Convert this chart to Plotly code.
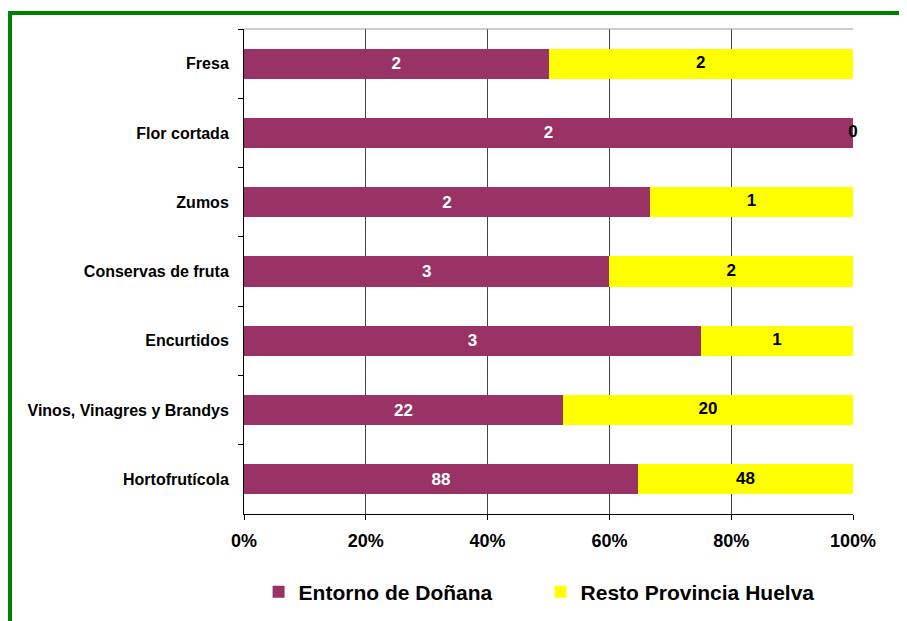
import plotly.graph_objects as go

categories = ["Fresa", "Flor cortada", "Zumos", "Conservas de fruta", "Encurtidos",
              "Vinos, Vinagres y Brandys", "Hortofrutícola"]
entorno = [2, 2, 2, 3, 3, 22, 88]
resto = [2, 0, 1, 2, 1, 20, 48]
tick_vals = [0, 20, 40, 60, 80, 100]
tick_text = ["0%", "20%", "40%", "60%", "80%", "100%"]

FONT = "Liberation Sans, Arial, sans-serif"
MAGENTA = "#993366"
YELLOW = "#FFFF00"

totals = [a + b for a, b in zip(entorno, resto)]
resto_mid = [(a + b / 2) / t * 100 for a, b, t in zip(entorno, resto, totals)]

fig = go.Figure()
fig.add_trace(go.Bar(
    y=categories, x=entorno, orientation="h", name="Entorno de Doñana",
    marker=dict(color=MAGENTA, line=dict(width=0)),
    text=[str(v) for v in entorno], textposition="inside", insidetextanchor="middle",
    textfont=dict(family=FONT, size=17, color="white", weight="bold"),
    textangle=0,
))
fig.add_trace(go.Bar(
    y=categories, x=resto, orientation="h", name="Resto Provincia Huelva",
    marker=dict(color=YELLOW, line=dict(width=0)),
    textposition="none",
))
fig.add_trace(go.Scatter(
    y=categories, x=resto_mid, mode="text", text=[str(v) for v in resto],
    textposition="middle center",
    textfont=dict(family=FONT, size=17, color="black", weight="bold"),
    showlegend=False, cliponaxis=False, hoverinfo="skip",
))

fig.update_layout(
    width=900, height=614,
    barmode="stack", barnorm="percent", bargap=0.565,
    paper_bgcolor="white", plot_bgcolor="white",
    margin=dict(l=236, r=55, t=21, b=108, autoexpand=False),
    font=dict(family=FONT, color="black"),
    showlegend=True,
    legend=dict(orientation="h", x=0.487, xanchor="center", y=-0.161, yanchor="middle",
                traceorder="normal",
                font=dict(family=FONT, size=21, color="black", weight="bold"),
                itemwidth=30, entrywidth=237),
    shapes=[dict(type="rect", xref="paper", yref="paper",
                 x0=-0.3842, x1=1.2, y0=-0.35, y1=1.033,
                 line=dict(color="#008000", width=4), fillcolor="rgba(0,0,0,0)", layer="below"),
            dict(type="line", xref="paper", yref="paper", x0=0, x1=1, y0=1, y1=1,
                 line=dict(color="#999999", width=1))],
)
fig.update_xaxes(
    range=[0, 100], tickvals=tick_vals, ticktext=tick_text,
    showgrid=True, gridcolor="#444444", gridwidth=1,
    showline=True, linecolor="black", linewidth=1,
    ticks="outside", ticklen=5, tickcolor="black",
    ticklabelstandoff=5,
    tickfont=dict(family=FONT, size=18, color="black", weight="bold"),
    zeroline=False, fixedrange=True, automargin=False,
)
fig.update_yaxes(
    categoryorder="array", categoryarray=categories,
    range=[len(categories) - 0.5, -0.5], autorange=False,
    showline=True, linecolor="black", linewidth=1,
    ticks="outside", ticklen=5, tickcolor="black", tickson="boundaries",
    ticklabelstandoff=11,
    tickfont=dict(family=FONT, size=16, color="black", weight="bold"),
    showgrid=False, automargin=False,
)

fig.write_html("out.html")
